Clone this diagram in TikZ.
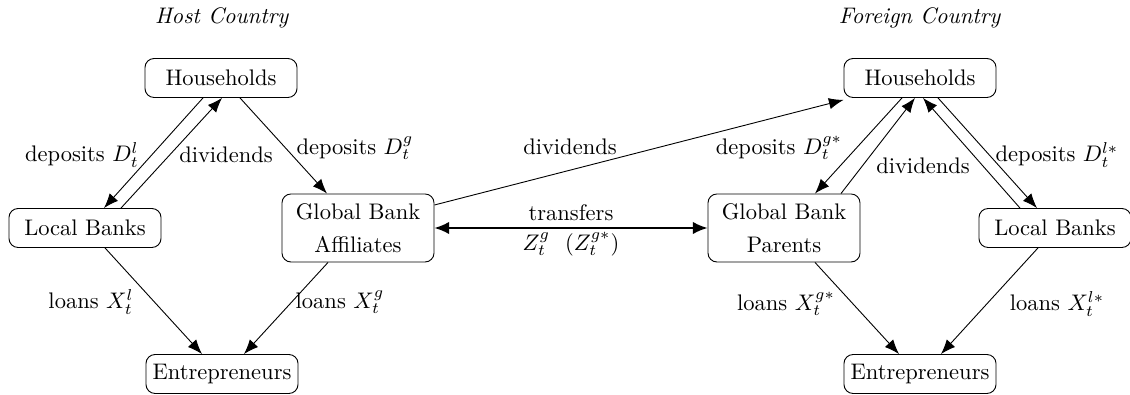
\documentclass[tikz,border=0pt]{standalone}
\usetikzlibrary{arrows.meta,calc}
\begin{document}
\begin{tikzpicture}[x=0.444pt,y=-0.444pt,
  box/.style={draw,rounded corners=4pt,minimum width=67.5pt,minimum height=17.3pt,inner sep=2pt,align=center},
  tall/.style={box,minimum height=30.2pt},
  arr/.style={-{Latex[length=6.5pt,width=5pt]}},
  lbl/.style={inner sep=0pt}]
\useasboundingbox (0,0) rectangle (1130,395);
% titles
\node[lbl] (th) at (222,18) {\textit{Host Country}};
\node[lbl] (tf) at (920,18) {\textit{Foreign Country}};
% host nodes
\node[box] (hl) at (221,78) {Households};
\node[box] (lb) at (85,228) {Local Banks};
\node[tall] (ga) at (358,228) {Global Bank\\[2.5pt]Affiliates};
\node[box] (el) at (222,374) {Entrepreneurs};
% foreign nodes
\node[box] (hr) at (920,78) {Households};
\node[tall] (gp) at (784,228) {Global Bank\\[2.5pt]Parents};
\node[box] (lr) at (1055,228) {Local Banks};
\node[box] (er) at (920,374) {Entrepreneurs};
% host connectors
\draw[arr] ($(hl.south)+(-18,0)$) -- ($(lb.north)+(19,0)$);
\draw[arr] ($(lb.north)+(36,0)$) -- ($(hl.south)+(1,0)$);
\draw[arr] ($(hl.south)+(19,0)$) -- ($(ga.north)+(-31,0)$);
\draw[arr] ($(lb.south)+(20,0)$) -- ($(el.north)+(-20,0)$);
\draw[arr] ($(ga.south)+(-30,0)$) -- ($(el.north)+(22,0)$);
% middle
\draw[arr] ($(ga.east)+(0,-23)$) -- ($(hr.south west)+(0,2)$);
\draw[thick,{Latex[length=6.5pt,width=5.5pt]}-{Latex[length=6.5pt,width=5.5pt]}] (ga.east) -- (gp.west);
% foreign connectors
\draw[arr] ($(hr.south)+(-18,0)$) -- ($(gp.north)+(31,0)$);
\draw[arr] ($(gp.north)+(57,0)$) -- ($(hr.south)+(-5,0)$);
\draw[arr] ($(lr.north)+(-35,0)$) -- ($(hr.south)+(3,0)$);
\draw[arr] ($(hr.south)+(18,0)$) -- ($(lr.north)+(-18,0)$);
\draw[arr] ($(gp.south)+(31,0)$) -- ($(er.north)+(-21,0)$);
\draw[arr] ($(lr.south)+(-17,0)$) -- ($(er.north)+(21,0)$);
% labels
\node[lbl] (l1) at (82,155) {deposits $D_t^l$};
\node[lbl] (l2) at (226,155) {dividends};
\node[lbl] (l3) at (355,148) {deposits $D_t^g$};
\node[lbl] (l4) at (570,147) {dividends};
\node[lbl] (l5) at (571,213) {transfers};
\node[lbl] (l6) at (571,244) {$Z_t^g\ \ (Z_t^{g*})$};
\node[lbl] (l7) at (779,148) {deposits $D_t^{g*}$};
\node[lbl] (l8) at (923,166) {dividends};
\node[lbl] (l9) at (1057,155) {deposits $D_t^{l*}$};
\node[lbl] (l10) at (91,302) {loans $X_t^l$};
\node[lbl] (l11) at (340,302) {loans $X_t^g$};
\node[lbl] (l12) at (786,304) {loans $X_t^{g*}$};
\node[lbl] (l13) at (1057,304) {loans $X_t^{l*}$};
\end{tikzpicture}
\end{document}
